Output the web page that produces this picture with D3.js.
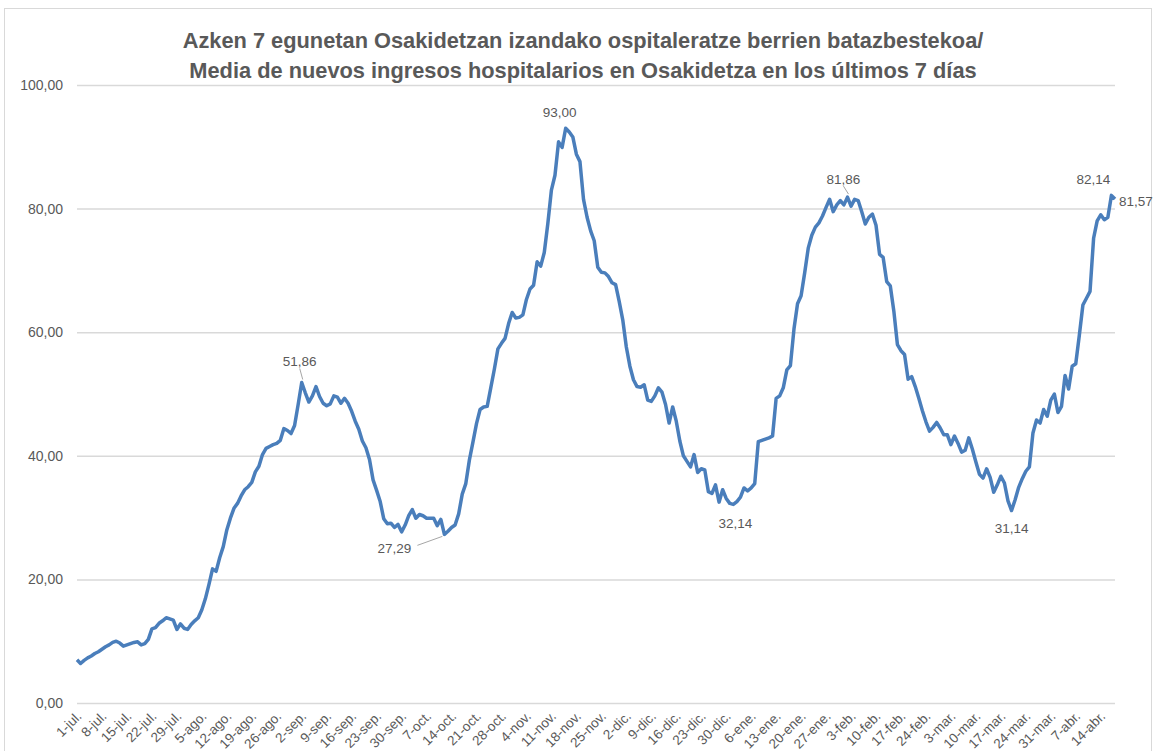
<html>

<head>
    <title>Ingresos hospitalarios Osakidetza</title>
    <style>
        body {
            margin: 0;
            background: #ffffff;
        }
    </style>
</head>

<body>
    <div id="my_dataviz"></div>
</body>

<script src="https://d3js.org/d3.v7.min.js"></script>

<script>

    // media 7 dias, un valor por dia desde el 1 de julio de 2020
    var startDate = new Date(2020, 6, 1);

    var values = [
        7.0, 6.4, 6.9, 7.3, 7.6, 8.0, 8.3, 8.7, 9.1, 9.4,
        9.8, 10.0, 9.7, 9.2, 9.4, 9.6, 9.8, 9.9, 9.4, 9.6,
        10.3, 12.0, 12.2, 12.9, 13.3, 13.8, 13.6, 13.4, 11.9, 12.8,
        12.1, 11.9, 12.7, 13.3, 13.8, 15.1, 16.9, 19.2, 21.7, 21.3,
        23.5, 25.3, 28.0, 29.9, 31.5, 32.3, 33.5, 34.5, 35.0, 35.7,
        37.4, 38.3, 40.2, 41.2, 41.5, 41.8, 42.0, 42.5, 44.4, 44.1,
        43.6, 44.9, 48.3, 51.86, 50.2, 48.7, 49.7, 51.2, 49.6, 48.5,
        48.1, 48.4, 49.7, 49.5, 48.5, 49.3, 48.5, 47.2, 45.6, 44.3,
        42.4, 41.3, 39.4, 36.1, 34.4, 32.6, 29.8, 29.0, 29.1, 28.4,
        28.9, 27.7, 28.8, 30.3, 31.3, 29.9, 30.5, 30.3, 29.9, 29.9,
        29.9, 28.7, 29.7, 27.29, 27.8, 28.4, 28.8, 30.6, 33.8, 35.5,
        39.3, 42.2, 45.2, 47.5, 47.9, 48.0, 51.0, 54.0, 57.3, 58.2,
        59.0, 61.4, 63.2, 62.3, 62.4, 62.8, 65.3, 67.0, 67.6, 71.4,
        70.7, 72.9, 77.6, 83.0, 85.4, 90.8, 89.9, 93.0, 92.4, 91.6,
        88.8, 87.6, 81.5, 78.6, 76.4, 74.8, 70.5, 69.7, 69.6, 69.0,
        68.0, 67.7, 65.0, 62.0, 57.6, 54.5, 52.3, 51.2, 51.1, 51.5,
        49.0, 48.8, 49.7, 51.0, 50.3, 48.3, 45.3, 47.9, 45.6, 42.4,
        40.0, 39.1, 38.2, 40.2, 37.3, 37.9, 37.7, 34.2, 33.9, 35.3,
        32.5, 34.5, 33.1, 32.3, 32.14, 32.6, 33.3, 34.8, 34.3, 34.8,
        35.5, 42.3, 42.5, 42.7, 42.9, 43.2, 49.3, 49.7, 51.0, 53.9,
        54.6, 60.5, 64.6, 65.9, 69.6, 73.6, 75.7, 77.0, 77.7, 78.8,
        80.2, 81.5, 79.5, 80.6, 81.3, 80.6, 81.86, 80.4, 81.5, 81.3,
        79.5, 77.5, 78.6, 79.1, 77.3, 72.6, 72.1, 68.2, 67.5, 63.4,
        58.0, 57.0, 56.4, 52.4, 52.8, 51.2, 49.3, 47.3, 45.5, 44.0,
        44.6, 45.4, 44.5, 43.4, 43.4, 41.8, 43.2, 42.0, 40.6, 40.9,
        42.9, 41.1, 39.0, 37.0, 36.4, 37.9, 36.5, 34.1, 35.3, 36.7,
        35.6, 32.7, 31.14, 32.9, 34.9, 36.3, 37.5, 38.2, 43.7, 45.8,
        45.3, 47.5, 46.4, 49.0, 50.0, 47.0, 48.0, 53.0, 50.8, 54.5,
        54.9, 59.5, 64.4, 65.5, 66.6, 75.2, 78.0, 79.0, 78.2, 78.6,
        82.14, 81.57
    ];

    // puntos con etiqueta (indice del dia)
    var labelledDays = [63, 103, 137, 184, 216, 262, 290, 291];

    var yTicks = [0, 20, 40, 60, 80, 100];
    var monthNames = ["ene", "feb", "mar", "abr", "may", "jun", "jul", "ago", "sep", "oct", "nov", "dic"];

    var titleLines = [
        "Azken 7 egunetan Osakidetzan izandako ospitaleratze berrien batazbestekoa/",
        "Media de nuevos ingresos hospitalarios en Osakidetza en los últimos 7 días"
    ];

    var data = values.map(function (v, i) {
        return { date: d3.timeDay.offset(startDate, i), value: v };
    });

    var W = 1157, H = 751;
    var margin = { top: 85, right: 42, bottom: 48, left: 77 },
        width = W - margin.left - margin.right,
        height = H - margin.top - margin.bottom;

    var textColor = "#595959";
    var lineColor = "#4a7ebb";
    var fontFam = "'Liberation Sans', Arial, sans-serif";

    var root = d3.select("#my_dataviz")
        .append("svg")
        .attr("width", W)
        .attr("height", H)
        .style("display", "block");

    // borde del grafico
    root.append("rect")
        .attr("x", 4.5)
        .attr("y", 8.5)
        .attr("width", 1147)
        .attr("height", 760)
        .attr("fill", "none")
        .attr("stroke", "#d9d9d9")
        .attr("stroke-width", 1);

    var svg = root.append("g")
        .attr("transform", "translate(" + margin.left + "," + margin.top + ")");

    var lastDate = data[data.length - 1].date;

    var x = d3.scaleTime()
        .domain([startDate, lastDate])
        .range([0, width]);

    var y = d3.scaleLinear()
        .domain([0, 100])
        .range([height, 0]);

    var fmtNum = function (v) { return d3.format(".2f")(v).replace(".", ","); };

    // Y axis + gridlines
    var yAxis = svg.append("g")
        .call(d3.axisLeft(y).tickValues(yTicks).tickSize(-width).tickPadding(14).tickFormat(fmtNum));
    yAxis.select(".domain").remove();
    yAxis.selectAll(".tick line")
        .attr("stroke", "#d9d9d9")
        .attr("stroke-width", 1.5);
    yAxis.selectAll(".tick text")
        .attr("fill", textColor)
        .style("font-family", fontFam)
        .style("font-size", "14px");

    // X axis: una etiqueta cada 7 dias
    var xTickDates = d3.timeDay.range(startDate, d3.timeDay.offset(lastDate, 1), 7);
    var xAxis = svg.append("g")
        .attr("transform", "translate(0," + height + ")")
        .call(d3.axisBottom(x)
            .tickValues(xTickDates)
            .tickSize(0)
            .tickFormat(function (d) { return d.getDate() + "-" + monthNames[d.getMonth()] + "."; }));
    xAxis.select(".domain").remove();
    xAxis.selectAll(".tick text")
        .attr("fill", textColor)
        .style("font-family", fontFam)
        .style("font-size", "13.5px")
        .attr("text-anchor", "end")
        .attr("dy", null)
        .attr("y", 0)
        .attr("transform", "translate(5,14) rotate(-45)");

    // linea
    var line = d3.line()
        .x(function (d) { return x(d.date); })
        .y(function (d) { return y(d.value); });

    svg.append("path")
        .datum(data)
        .attr("fill", "none")
        .attr("stroke", lineColor)
        .attr("stroke-width", 3.5)
        .attr("stroke-linejoin", "round")
        .attr("d", line);

    // etiquetas de datos
    var labelPlace = {
        63: { dx: -2, dy: -20, anchor: "middle", leader: true },
        103: { dx: -50, dy: 15, anchor: "middle", leader: true },
        137: { dx: -6, dy: -15, anchor: "middle", leader: false },
        184: { dx: 2, dy: 20, anchor: "middle", leader: false },
        216: { dx: -4, dy: -17, anchor: "middle", leader: true },
        262: { dx: 0, dy: 19, anchor: "middle", leader: false },
        290: { dx: -18, dy: -15, anchor: "middle", leader: false },
        291: { dx: 4, dy: 4, anchor: "start", leader: false }
    };

    labelledDays.forEach(function (i) {
        var d = data[i];
        var p = labelPlace[i];
        var px = x(d.date), py = y(d.value);
        var tx = px + p.dx, ty = py + p.dy;
        if (p.leader) {
            var lx1, ly1, lx2, ly2;
            if (p.dx < -20) {
                lx1 = tx + 23; ly1 = ty - 4; lx2 = px - 2; ly2 = py + 2;
            } else {
                lx1 = tx; ly1 = ty + 6; lx2 = px + 1; ly2 = py - 3;
            }
            svg.append("line")
                .attr("x1", lx1).attr("y1", ly1)
                .attr("x2", lx2).attr("y2", ly2)
                .attr("stroke", "#a6a6a6")
                .attr("stroke-width", 1);
        }
        svg.append("text")
            .attr("x", tx)
            .attr("y", ty)
            .attr("text-anchor", p.anchor)
            .attr("dominant-baseline", "middle")
            .attr("fill", textColor)
            .style("font-family", fontFam)
            .style("font-size", "13.5px")
            .text(fmtNum(d.value));
    });

    // titulo
    root.selectAll(".title")
        .data(titleLines)
        .enter()
        .append("text")
        .attr("class", "title")
        .attr("x", 583)
        .attr("y", function (d, i) { return 48 + i * 30; })
        .attr("text-anchor", "middle")
        .attr("fill", textColor)
        .style("font-family", fontFam)
        .style("font-weight", "bold")
        .style("font-size", "21.8px")
        .text(function (d) { return d; });

</script>

</html>
